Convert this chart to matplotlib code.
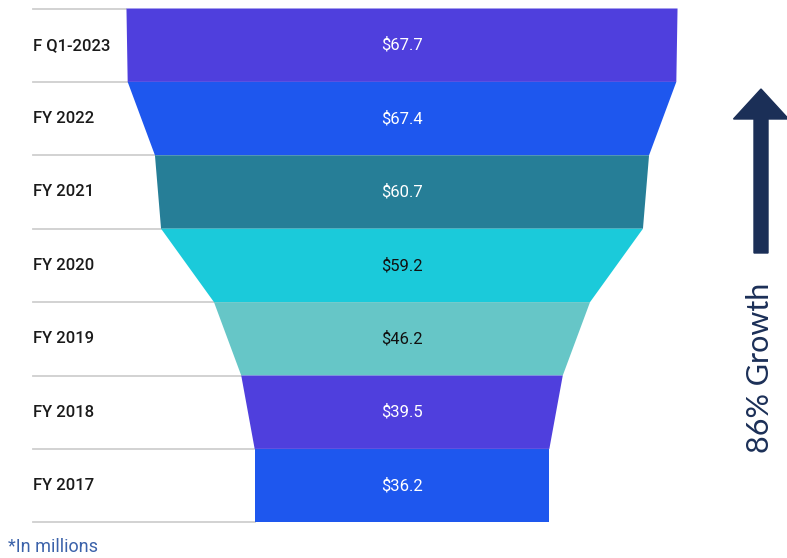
import matplotlib.pyplot as plt
from matplotlib.patches import Polygon, FancyArrow

# revenue by period, top of the funnel first
periods = ['F Q1-2023', 'FY 2022', 'FY 2021', 'FY 2020', 'FY 2019', 'FY 2018', 'FY 2017']
revenue = [67.7, 67.4, 60.7, 59.2, 46.2, 39.5, 36.2]
labels = ['$67.7', '$67.4', '$60.7', '$59.2', '$46.2', '$39.5', '$36.2']

colors = ['#4F3FDD', '#1E57EE', '#267E97', '#1BCADA', '#66C6C7', '#4F3FDD', '#1E57EE']
text_colors = ['white', 'white', 'white', '#111111', '#111111', 'white', 'white']

plt.rcParams['font.family'] = ['Roboto', 'DejaVu Sans']

W, H = 787, 558
fig = plt.figure(figsize=(W / 100, H / 100), dpi=100)
ax = fig.add_axes([0, 0, 1, 1])

# 1 unit of revenue = 4.07 px of half width, funnel centred at x=402
k = 4.07
cx = 402
ax.set_xlim(-cx / k, (W - cx) / k)
row_h = 73.4
top = 8.5
ax.set_ylim((H - top) / row_h, -top / row_h)
ax.axis('off')

n = len(revenue)
for i, v in enumerate(revenue):
    nxt = revenue[i + 1] if i + 1 < n else v
    poly = Polygon([(-v, i), (v, i), (nxt, i + 1), (-nxt, i + 1)],
                   closed=True, facecolor=colors[i], edgecolor='none', zorder=2)
    ax.add_patch(poly)
    ax.text(0, i + 0.5, labels[i], ha='center', va='center',
            fontsize=12, color=text_colors[i], zorder=3)
    ax.text(33 / W, i + 0.5, periods[i], ha='left', va='center',
            fontsize=12, color='#1a1a1a', fontweight='medium',
            transform=ax.get_yaxis_transform(), zorder=3)

# separators on the left side, stopping at the funnel edge
edges = revenue + [revenue[-1]]
for i in range(n + 1):
    ax.plot([-(cx - 33) / k, -edges[i]], [i, i], color='#cfcfcf', lw=1.3, zorder=1)

ax.text(8 / W, 1 - 547 / H, '*In millions', transform=fig.transFigure,
        ha='left', va='center', fontsize=13, color='#3B62AA')

# growth arrow
arrow = FancyArrow(7.61, (H - 253) / 100, 0, (253 - 89) / 100,
                   width=0.14, head_width=0.55, head_length=0.30,
                   length_includes_head=True, color='#1B2F57',
                   transform=fig.dpi_scale_trans)
fig.patches.append(arrow)

fig.text(760 / W, 1 - 368 / H, '86% Growth', rotation=90, ha='center', va='center',
         fontsize=22, color='#1B2F57', family=['Lato', 'DejaVu Sans'])

fig.savefig('out.png', dpi=100)
